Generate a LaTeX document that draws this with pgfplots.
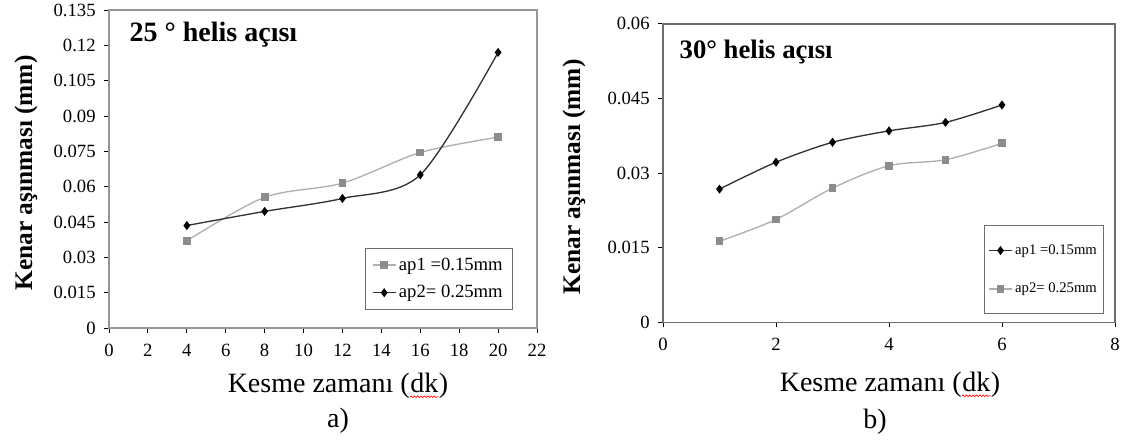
\documentclass[border=0pt]{standalone}
\usepackage{fontspec}
\setmainfont{Liberation Serif}
\usepackage{pgfplots}
\pgfplotsset{compat=1.18}
\usetikzlibrary{decorations.pathmorphing}
\definecolor{frl}{RGB}{150,150,150}
\definecolor{frr}{RGB}{110,110,110}
\definecolor{lgl}{RGB}{175,175,175}
\definecolor{lgm}{RGB}{140,140,140}
\definecolor{dk}{RGB}{50,50,50}
\newcommand{\wavy}[1]{\tikz[baseline=(w.base)]{\node[inner sep=0pt](w){#1};\draw[red,line width=0.5pt,decorate,decoration={snake,amplitude=0.6pt,segment length=2.5pt}] ([yshift=-3pt]w.base west) -- ([yshift=-3pt]w.base east);}}
\pgfplotsset{
  common/.style={
    scale only axis,
    scaled y ticks=false,
    yticklabel style={/pgf/number format/fixed,/pgf/number format/precision=3, xshift=-3pt},
    xticklabel style={yshift=-5pt},
    /pgf/number format/assume math mode=true,
    tick label style={font=\fontsize{14}{16}\selectfont},
    tick align=outside, xtick pos=bottom, ytick pos=left,
    major tick length=3.5pt,
    tick style={black, line width=0.7pt},
    legend cell align=left,
  },
  gser/.style={lgl, line width=1pt, smooth, mark=square*, mark size=2.4pt, mark options={lgm, fill=lgm, solid}},
  bser/.style={dk, line width=1pt, smooth, mark=diamond*, mark size=2.6pt, mark options={black, fill=black, solid}},
}
\begin{document}
\begin{tikzpicture}[x=0.75pt,y=0.75pt]
\path[use as bounding box] (0,0) rectangle (1123,441);
\begin{axis}[common,
  at={(81.75pt,84.75pt)}, anchor=south west,
  width=321pt, height=238.5pt,
  xmin=0, xmax=22, ymin=0, ymax=0.135,
  xtick={0,2,4,6,8,10,12,14,16,18,20,22},
  ytick={0,0.015,0.03,0.045,0.06,0.075,0.09,0.105,0.12,0.135},
  axis line style={frl, line width=1pt},
  legend style={at={(0.598,0.252)}, anchor=north west, draw=frr, line width=0.8pt,
    font=\fontsize{14}{16}\selectfont, row sep=6pt, inner xsep=5pt, inner ysep=5pt},
]
\addplot[gser] coordinates {(4,0.037) (8,0.0555) (12,0.0615) (16,0.0745) (20,0.081)};
\addlegendentry{ap1 =0.15mm}
\addplot[bser] coordinates {(4,0.0435) (8,0.0495) (12,0.055) (16,0.065) (20,0.117)};
\addlegendentry{ap2= 0.25mm}
\end{axis}
\begin{axis}[common,
  at={(497.25pt,88.875pt)}, anchor=south west,
  width=339pt, height=224pt,
  xmin=0, xmax=8, ymin=0, ymax=0.06,
  xtick={0,2,4,6,8},
  ytick={0,0.015,0.03,0.045,0.06},
  axis line style={frr, line width=1.2pt},
  legend style={at={(0.710,0.325)}, anchor=north west, draw=frr, line width=0.8pt,
    font=\fontsize{11}{13}\selectfont, row sep=16pt, inner xsep=3pt, inner ysep=12pt},
]
\addplot[bser] coordinates {(1,0.0268) (2,0.0322) (3,0.0362) (4,0.0385) (5,0.0402) (6,0.0437)};
\addlegendentry{ap1 =0.15mm}
\addplot[gser] coordinates {(1,0.0163) (2,0.0207) (3,0.027) (4,0.0315) (5,0.0327) (6,0.036)};
\addlegendentry{ap2= 0.25mm}
\end{axis}
% titles
\node[anchor=west, font=\fontsize{21}{23}\selectfont\bfseries] at (125,406) {25 ° helis açısı};
\node[anchor=west, font=\fontsize{20}{22}\selectfont\bfseries] at (675,389) {30° helis açısı};
% y labels
\node[rotate=90, font=\fontsize{19}{21}\selectfont\bfseries] at (26,268) {Kenar aşınması (mm)};
\node[rotate=90, font=\fontsize{19}{21}\selectfont\bfseries] at (574,264) {Kenar aşınması (mm)};
% x labels
\node[font=\fontsize{21}{23}\selectfont] at (338,55) {Kesme zamanı (\wavy{dk})};
\node[font=\fontsize{21}{23}\selectfont] at (890,56) {Kesme zamanı (\wavy{dk})};
\node[font=\fontsize{21}{23}\selectfont] at (338,20) {a)};
\node[font=\fontsize{21}{23}\selectfont] at (875,19) {b)};
\end{tikzpicture}
\end{document}
